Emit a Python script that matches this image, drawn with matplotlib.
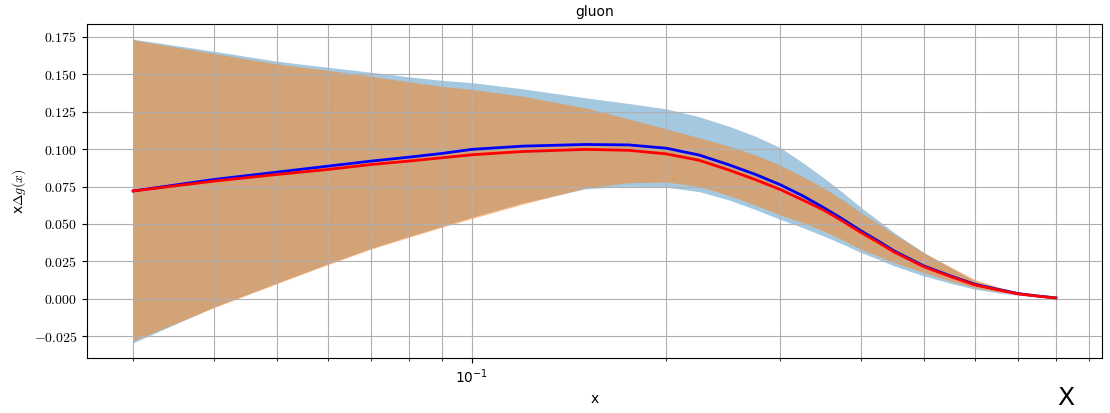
import numpy as np
import matplotlib
matplotlib.use('Agg')
import matplotlib.pyplot as plt
from matplotlib.ticker import NullFormatter, FuncFormatter

plt.rcParams['mathtext.fontset'] = 'cm'

# values
x = [0.03, 0.04, 0.05, 0.06, 0.07, 0.08, 0.09, 0.10, 0.12, 0.15, 0.175, 0.20,
     0.225, 0.25, 0.275, 0.30, 0.325, 0.35, 0.375, 0.40, 0.425, 0.45, 0.50,
     0.55, 0.60, 0.65, 0.70, 0.75, 0.80]

blue_center = [0.0720, 0.0797, 0.0846, 0.0886, 0.0920, 0.0946, 0.0971, 0.0998,
               0.1020, 0.1031, 0.1028, 0.1006, 0.0960, 0.0895, 0.0830, 0.0762,
               0.0688, 0.0609, 0.0531, 0.0453, 0.0386, 0.0319, 0.0219,
               0.0152, 0.0096, 0.0063, 0.0034, 0.0018, 0.0005]
red_center = [0.0720, 0.0786, 0.0830, 0.0864, 0.0897, 0.0920, 0.0942, 0.0962,
              0.0984, 0.0998, 0.0992, 0.0968, 0.0925, 0.0860, 0.0795, 0.0730,
              0.0660, 0.0593, 0.0518, 0.0442, 0.0377, 0.0312, 0.0214,
              0.0148, 0.0092, 0.0060, 0.0032, 0.0017, 0.0005]

blue_upper = [0.1735, 0.1654, 0.1588, 0.1547, 0.1514, 0.1483, 0.1460, 0.1445,
              0.1403, 0.1343, 0.1305, 0.1269, 0.1216, 0.1153, 0.1085, 0.1010,
              0.0910, 0.0809, 0.0709, 0.0609, 0.0524, 0.0442, 0.0308,
              0.0208, 0.0118, 0.0074, 0.0040, 0.0023, 0.0007]
blue_lower = [-0.0295, -0.0055, 0.0105, 0.0234, 0.0338, 0.0417, 0.0484, 0.0545,
              0.0640, 0.0735, 0.0752, 0.0746, 0.0715, 0.0660, 0.0595, 0.0530,
              0.0475, 0.0419, 0.0364, 0.0308, 0.0264, 0.0219, 0.0152,
              0.0103, 0.0063, 0.0040, 0.0023, 0.0014, 0.0004]

orange_upper = [0.1730, 0.1640, 0.1570, 0.1527, 0.1487, 0.1450, 0.1420, 0.1400,
                0.1354, 0.1276, 0.1202, 0.1136, 0.1076, 0.1020, 0.0960, 0.0895,
                0.0816, 0.0742, 0.0660, 0.0575, 0.0502, 0.0431, 0.0308,
                0.0212, 0.0128, 0.0080, 0.0045, 0.0023, 0.0007]
orange_lower = [-0.0282, -0.0060, 0.0100, 0.0228, 0.0332, 0.0410, 0.0478, 0.0535,
                0.0632, 0.0740, 0.0775, 0.0780, 0.0750, 0.0690, 0.0625, 0.0560,
                0.0509, 0.0453, 0.0393, 0.0330, 0.0286, 0.0241, 0.0174,
                0.0118, 0.0074, 0.0047, 0.0027, 0.0016, 0.0005]

fig = plt.figure(figsize=(11.1, 4.13), dpi=100)
ax = fig.add_axes([0.0784, 0.1332, 0.9144, 0.8087])

ax.fill_between(x, blue_lower, blue_upper, color='tab:blue', alpha=0.4, linewidth=0)
ax.fill_between(x, orange_lower, orange_upper, color='tab:orange', alpha=0.5, linewidth=0)
ax.plot(x, blue_center, color='b', linewidth=2)
ax.plot(x, red_center, color='r', linewidth=2)

ax.set_xscale('log')
ax.xaxis.set_minor_formatter(NullFormatter())
ax.yaxis.set_major_formatter(FuncFormatter(lambda v, pos: '$%.3f$' % v))
ax.tick_params(labelsize=10)
ax.grid(which='both')

ax.set_title('gluon', fontsize=10)
ax.set_xlabel('x', fontsize=10)
ax.set_ylabel(r'x$\Delta g(x)$', fontsize=10)

fig.text(0.96, 0.036, 'X', fontsize=18, ha='center', va='center')

fig.savefig('out.png', dpi=100)
